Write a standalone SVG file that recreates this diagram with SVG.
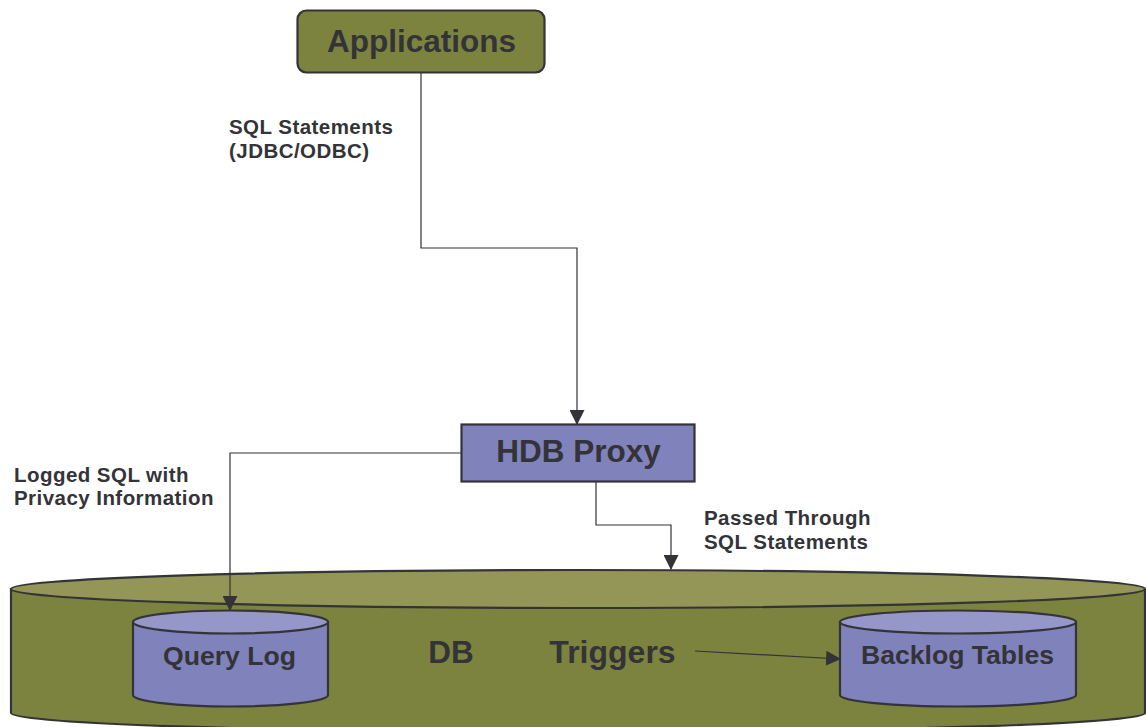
<svg xmlns="http://www.w3.org/2000/svg" width="1146" height="727" viewBox="0 0 1146 727">
  <defs>
    <marker id="arrow" viewBox="0 0 14 14" refX="13" refY="7" markerWidth="15" markerHeight="15" markerUnits="userSpaceOnUse" orient="auto">
      <path d="M0,0 L14,7 L0,14 Z" fill="#333338"/>
    </marker>
    <style>
      text { font-family: "Liberation Sans", Arial, sans-serif; font-weight: bold; fill: #333338; }
      .lbl { font-size: 20.5px; letter-spacing: 0.45px; }
      .big { font-size: 31.5px; text-anchor: middle; }
      .cyl { font-size: 26.6px; text-anchor: middle; }
      .edge { fill: none; stroke: #333338; stroke-width: 1.2; }
      .outline { stroke: #333338; stroke-width: 2.2; }
    </style>
  </defs>
  <rect width="1146" height="727" fill="#ffffff"/>

  <!-- Database cylinder -->
  <g id="db">
    <path class="outline" d="M11,589 L11,713 A567,19 0 0 0 1145,713 L1145,589 Z" fill="#7b833f"/>
    <ellipse class="outline" cx="578" cy="589" rx="567" ry="19" fill="#939656"/>
    <text class="big" x="451" y="663" font-size="30.5">DB</text>
    <text class="big" x="612.5" y="663" style="font-size:32px">Triggers</text>
  </g>

  <!-- Query log cylinder -->
  <g id="query-log">
    <path class="outline" d="M133,622 L133,695 A97.5,11.5 0 0 0 328,695 L328,622 Z" fill="#7f82bb"/>
    <ellipse class="outline" cx="230.5" cy="622" rx="97.5" ry="11.5" fill="#9597c9"/>
    <text class="cyl" x="229.5" y="665">Query Log</text>
  </g>

  <!-- Backlog tables cylinder -->
  <g id="backlog-tables">
    <path class="outline" d="M840,622 L840,695 A118,11.5 0 0 0 1076,695 L1076,622 Z" fill="#7f82bb"/>
    <ellipse class="outline" cx="958" cy="622" rx="118" ry="11.5" fill="#9597c9"/>
    <text class="cyl" x="957.5" y="664">Backlog Tables</text>
  </g>

  <!-- Applications -->
  <g id="applications">
    <rect class="outline" x="297.5" y="10.5" width="247" height="62" rx="9" fill="#7b833f" stroke-width="1.5"/>
    <text class="big" x="421.5" y="52">Applications</text>
  </g>

  <!-- HDB Proxy -->
  <g id="hdb-proxy">
    <rect class="outline" x="461.5" y="424.5" width="233" height="57" fill="#7f82bb" stroke-width="1.5"/>
    <text class="big" x="578.5" y="462">HDB Proxy</text>
  </g>

  <!-- Connectors -->
  <g id="connectors">
    <path class="edge" d="M421,73 L421,248 L577,248 L577,424" marker-end="url(#arrow)"/>
    <path class="edge" d="M461,453 L230,453 L230,610" marker-end="url(#arrow)"/>
    <path class="edge" d="M596,482 L596,525 L671,525 L671,569" marker-end="url(#arrow)"/>
    <path class="edge" d="M695,651 L840,659" stroke-width="2" marker-end="url(#arrow)"/>
  </g>

  <!-- Connector labels -->
  <g id="labels">
    <text class="lbl" x="229" y="134">SQL Statements</text>
    <text class="lbl" x="229" y="158">(JDBC/ODBC)</text>
    <text class="lbl" x="14" y="482">Logged SQL with</text>
    <text class="lbl" x="14" y="505">Privacy Information</text>
    <text class="lbl" x="704" y="525">Passed Through</text>
    <text class="lbl" x="704" y="549">SQL Statements</text>
  </g>
</svg>
